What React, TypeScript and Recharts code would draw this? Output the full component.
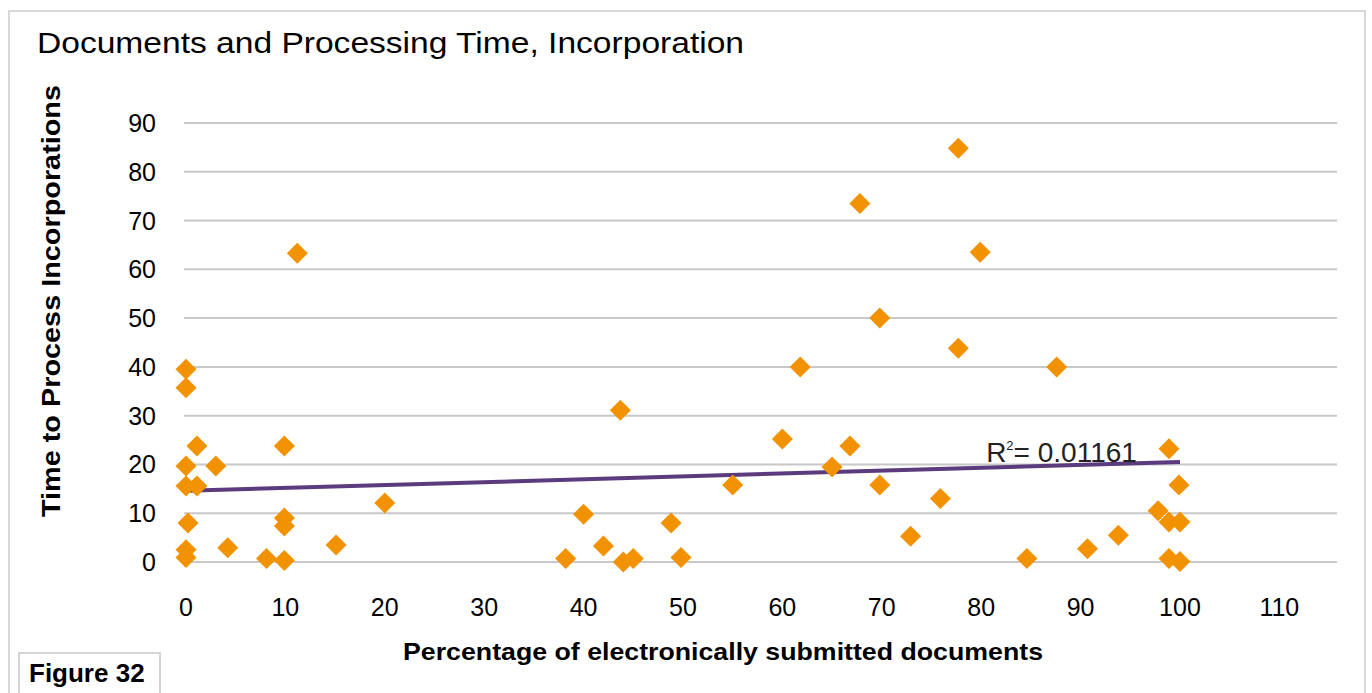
import React from 'react';
import { ScatterChart, Scatter, XAxis, YAxis, CartesianGrid, ReferenceLine, ReferenceDot } from 'recharts';

// Percentage of electronically submitted documents
const xPct = [
  0, 0, 1.1, 0, 3, 0, 1.1, 0.2, 0, 0, 4.2, 8.1, 9.9, 9.9, 9.9, 9.9, 11.2, 15.1, 20,
  38.2, 40, 42, 43.7, 44, 45, 48.8, 49.8, 55, 60, 61.8, 65, 66.8, 67.8, 69.8, 69.8,
  72.9, 75.9, 77.7, 77.7, 79.9, 84.6, 87.6, 90.7, 93.8, 97.8, 98.9, 98.9, 100, 99.9, 98.9, 100,
];
// Time to process incorporations
const yDays = [
  39.5, 35.7, 23.8, 19.7, 19.7, 15.6, 15.6, 8, 2.5, 0.9, 2.9, 0.7, 0.3, 23.8, 9, 7.4, 63.3, 3.5, 12.1,
  0.7, 9.8, 3.3, 31.1, 0, 0.7, 8, 0.9, 15.8, 25.2, 40, 19.5, 23.8, 73.5, 15.8, 50,
  5.3, 13, 84.8, 43.8, 63.5, 0.7, 40, 2.7, 5.5, 10.5, 23.2, 8.2, 8.2, 15.8, 0.7, 0.1,
];
const xTicks = [0, 10, 20, 30, 40, 50, 60, 70, 80, 90, 100, 110];
const yTicks = [0, 10, 20, 30, 40, 50, 60, 70, 80, 90];
const trendX = [0, 100];
const trendY = [14.6, 20.5];
const r2Text = '0.01161';
const r2Pos = [80.5, 20.5];

const points = xPct.map((x, i) => ({ x, y: yDays[i] }));

const FONT = 'Helvetica, Arial, "Liberation Sans", sans-serif';

const Diamond = (props: any) => {
  const { cx, cy } = props;
  const r = 10.5;
  return <path d={`M${cx},${cy - r}L${cx + r},${cy}L${cx},${cy + r}L${cx - r},${cy}Z`} fill="#F39200" />;
};

const XTick = (props: any) => {
  const { x, y, payload } = props;
  return (
    <text x={x} y={y + 45} textAnchor="middle" dominantBaseline="central" fontSize={25} fill="#000" fontFamily={FONT}>
      {payload.value}
    </text>
  );
};

const YTick = (props: any) => {
  const { x, y, payload } = props;
  return (
    <text x={x} y={y} textAnchor="end" dominantBaseline="central" fontSize={25} fill="#000" fontFamily={FONT}>
      {payload.value}
    </text>
  );
};

const R2Label = (props: any) => {
  const { cx, cy } = props;
  return (
    <text x={cx} y={cy} fontSize={28} fill="#222" fontFamily={FONT} fontWeight={300}>
      R<tspan fontSize={13} dy={-12}>2</tspan>
      <tspan dy={12}>= {r2Text}</tspan>
    </text>
  );
};

export default function App() {
  return (
    <div style={{ position: 'absolute', left: 0, top: 0, width: 1372, height: 693, background: '#fff', overflow: 'hidden' }}>
      <div
        style={{
          position: 'absolute', left: 8, top: 10, width: 1358, height: 720,
          border: '2px solid #d9d9d9', boxSizing: 'border-box',
        }}
      />
      <div style={{ position: 'absolute', left: 0, top: 0 }}>
        <ScatterChart width={1372} height={693} margin={{ top: 123, right: 35, left: 124, bottom: 71 }}>
          <CartesianGrid vertical={false} stroke="#c8c8c8" strokeWidth={2} />
          <XAxis
            type="number"
            dataKey="x"
            domain={[-0.2, 115.8]}
            ticks={xTicks}
            axisLine={false}
            tickLine={false}
            tickSize={0}
            tickMargin={0}
            height={60}
            tick={<XTick />}
            interval={0}
          />
          <YAxis
            type="number"
            dataKey="y"
            domain={[0, 90]}
            ticks={yTicks}
            axisLine={false}
            tickLine={false}
            tickSize={0}
            tickMargin={28}
            width={60}
            tick={<YTick />}
            interval={0}
          />
          <ReferenceLine
            segment={[{ x: trendX[0], y: trendY[0] }, { x: trendX[1], y: trendY[1] }]}
            stroke="#5B3A7E"
            strokeWidth={4}
          />
          <Scatter data={points} shape={<Diamond />} isAnimationActive={false} />
          <ReferenceDot x={r2Pos[0]} y={r2Pos[1]} r={0} shape={<R2Label />} />
        </ScatterChart>
      </div>
      <svg width={1372} height={693} style={{ position: 'absolute', left: 0, top: 0, pointerEvents: 'none' }}>
        <text x={37} y={53} fontSize={30} fill="#000" fontFamily={FONT} textLength={707} lengthAdjust="spacingAndGlyphs">
          Documents and Processing Time, Incorporation
        </text>
        <text
          x={0}
          y={0}
          transform="translate(60,301) rotate(-90)"
          textAnchor="middle"
          fontSize={25}
          fontWeight="bold"
          fill="#000"
          fontFamily={FONT}
          textLength={432}
          lengthAdjust="spacingAndGlyphs"
        >
          Time to Process Incorporations
        </text>
        <text
          x={403}
          y={660}
          fontSize={24}
          fontWeight="bold"
          fill="#000"
          fontFamily={FONT}
          textLength={640}
          lengthAdjust="spacingAndGlyphs"
        >
          Percentage of electronically submitted documents
        </text>
      </svg>
      <div
        style={{
          position: 'absolute', left: 18, top: 652, width: 143, height: 60,
          border: '2px solid #d4d4d4', boxSizing: 'border-box', background: '#fff',
        }}
      >
        <svg width={140} height={50} style={{ position: 'absolute', left: 0, top: 0 }}>
          <text x={9} y={28} fontSize={26} fontWeight="bold" fill="#000" fontFamily={FONT}>
            Figure 32
          </text>
        </svg>
      </div>
    </div>
  );
}
